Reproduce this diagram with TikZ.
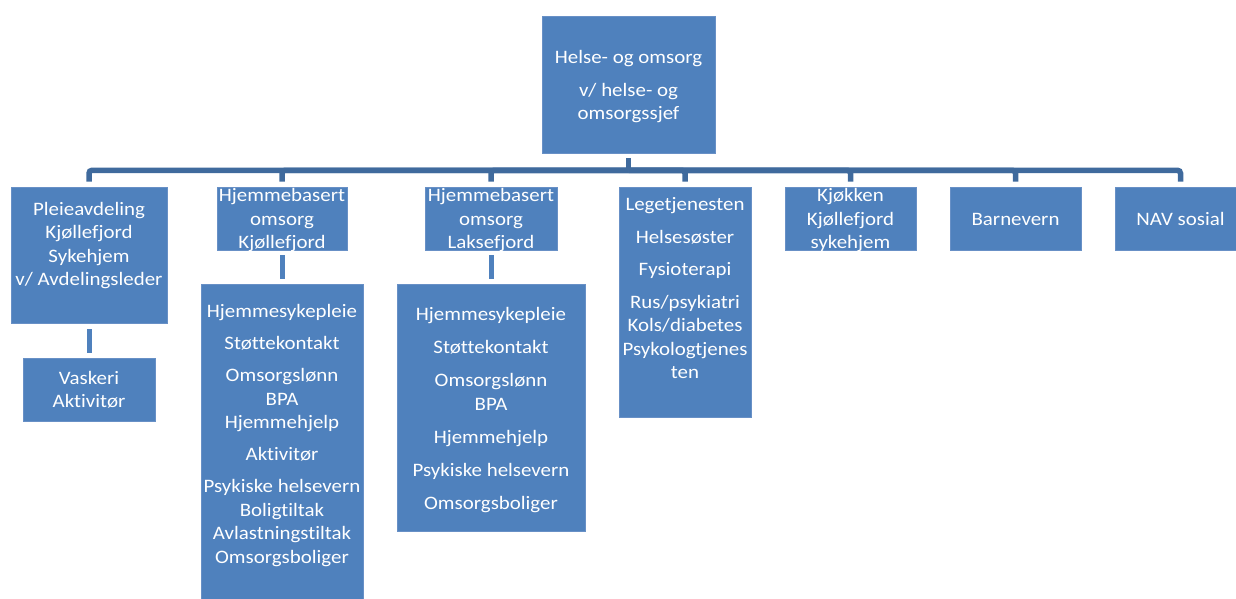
\documentclass[tikz,border=0pt]{standalone}
\usepackage{fontspec}
\setmainfont{Carlito}[FakeStretch=1.1,Ligatures=CommonOff]

\definecolor{boxblue}{HTML}{4F81BD}
\definecolor{busblue}{HTML}{3F6A9D}
\definecolor{edgeblue}{HTML}{6890C6}

% width, height, inner pos, top gap, lines
\newcommand{\orgtext}[5]{\parbox[c][#2][#3]{#1}{\centering
	\leftskip=-20pt plus 1fil\rightskip=\leftskip
	\fontsize{19}{23.5}\selectfont\vspace*{#4}\strut#5\strut}}

\begin{document}
\begin{tikzpicture}[x=1pt,y=-1pt,
	orgbox/.style={fill=boxblue,draw=edgeblue,line width=0.6pt,inner sep=0pt,text=white},
	busline/.style={draw=busblue,line width=5.5pt,rounded corners=3pt},
	stubline/.style={draw=boxblue,line width=5pt}]
	\useasboundingbox (0,0) rectangle (1236,599);
	
	\node[orgbox] (hoc) at (628.5,84.5) {\orgtext{173pt}{137pt}{c}{5pt}{Helse- og omsorg\\[9.5pt] v/ helse- og\\ omsorgssjef}};
	
	\node[orgbox] (pleie) at (89,255) {\orgtext{156pt}{136pt}{t}{12pt}{Pleieavdeling\\ Kjøllefjord\\ Sykehjem\\ v/ Avdelingsleder}};
	\node[orgbox] (hbk) at (282,218.5) {\orgtext{130pt}{63pt}{c}{4pt}{Hjemmebasert\\ omsorg\\ Kjøllefjord}};
	\node[orgbox] (hbl) at (491,218.5) {\orgtext{132pt}{63pt}{c}{4pt}{Hjemmebasert\\ omsorg\\ Laksefjord}};
	\node[orgbox] (lege) at (685,302) {\orgtext{132pt}{230pt}{t}{7.5pt}{Legetjenesten\\[9pt] Helsesøster\\[9pt] Fysioterapi\\[9pt] Rus/psykiatri\\ Kols/diabetes\\ Psykologtjenes\\ ten}};
	\node[orgbox] (kjok) at (850.5,218.5) {\orgtext{131pt}{63pt}{c}{4pt}{Kjøkken\\ Kjøllefjord\\ sykehjem}};
	\node[orgbox] (barn) at (1015.5,218.5) {\orgtext{131pt}{63pt}{c}{4pt}{Barnevern}};
	\node[orgbox] (nav) at (1180.5,218.5) {\orgtext{131pt}{63pt}{c}{4pt}{NAV sosial}};
	
	\node[orgbox] (vask) at (89,389.5) {\orgtext{132pt}{63pt}{c}{4pt}{Vaskeri\\ Aktivitør}};
	\node[orgbox] (hbklist) at (282,444.5) {\orgtext{162pt}{321pt}{t}{17.5pt}{Hjemmesykepleie\\[8.5pt] Støttekontakt\\[8.5pt] Omsorgslønn\\ BPA\\ Hjemmehjelp\\[8.5pt] Aktivitør\\[8.5pt] Psykiske helsevern\\ Boligtiltak\\ Avlastningstiltak\\ Omsorgsboliger}};
	\node[orgbox] (hbllist) at (491,407.5) {\orgtext{188pt}{247pt}{t}{20.5pt}{Hjemmesykepleie\\[9.5pt] Støttekontakt\\[9.5pt] Omsorgslønn\\ BPA\\[9.5pt] Hjemmehjelp\\[9.5pt] Psykiske helsevern\\[9.5pt] Omsorgsboliger}};
	
	% bus from the leader down to each unit
	\coordinate (bus) at ([yshift=-17pt]hoc.south);
	\draw[busline] ([yshift=-5pt]hoc.south) -- (bus);
	\foreach \unit in {pleie,hbk,hbl,lege,kjok,barn,nav}
		\draw[busline] (bus) -| ([yshift=5pt]\unit.north);
	
	\draw[stubline] ([yshift=-6pt]pleie.south) -- ([yshift=5pt]vask.north);
	\draw[stubline] ([yshift=-5pt]hbk.south) -- ([yshift=5pt]hbklist.north);
	\draw[stubline] ([yshift=-5pt]hbl.south) -- ([yshift=5pt]hbllist.north);
	
\end{tikzpicture}
\end{document}
